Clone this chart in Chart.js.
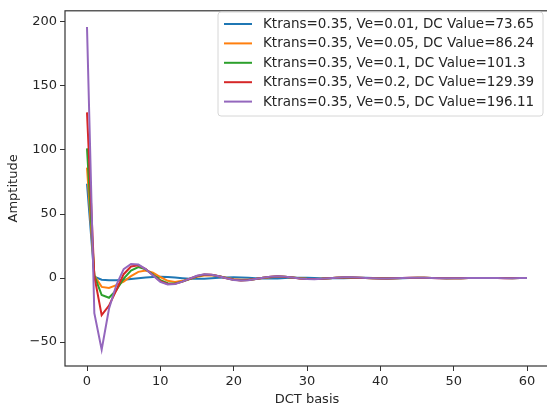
<!DOCTYPE html>
<html>
<head>
<meta charset="utf-8">
<script src="https://cdn.jsdelivr.net/npm/chart.js@4/dist/chart.umd.min.js"></script>
<style>
  html, body { margin: 0; padding: 0; background: #fff; overflow: hidden; }
  #wrap { width: 547px; height: 409px; overflow: hidden; position: relative; }
  canvas { display: block; }
</style>
</head>
<body>
<div id="wrap"><canvas id="c" width="552" height="409"></canvas></div>
<script>
// ---- data ----
const dctBasis = Array.from({length: 61}, (_, i) => i);
const xTicks = [0, 10, 20, 30, 40, 50, 60];
const yTicks = [-50, 0, 50, 100, 150, 200];

const seriesLabels = [
  "Ktrans=0.35, Ve=0.01, DC Value=73.65",
  "Ktrans=0.35, Ve=0.05, DC Value=86.24",
  "Ktrans=0.35, Ve=0.1, DC Value=101.3",
  "Ktrans=0.35, Ve=0.2, DC Value=129.39",
  "Ktrans=0.35, Ve=0.5, DC Value=196.11"
];
const seriesColors = ["#1f77b4", "#ff7f0e", "#2ca02c", "#d62728", "#9467bd"];

const ve001 = [73.65, 1, -1.3, -1.8, -1.8, -1.4, -0.8, -0.1, 0.5, 0.9, 1.0, 0.8, 0.4, -0.1, -0.5, -0.6, -0.5, -0.2, 0.2, 0.5,
  0.6, 0.5, 0.2, -0.1, -0.4, -0.4, -0.3, 0.0, 0.2, 0.3, 0.3, 0.1, -0.1, -0.2, -0.2, -0.1, 0.0, 0.1, 0.2, 0.1,
  0.0, -0.1, -0.1, -0.1, 0.0, 0.1, 0.1, 0.0, 0.0, -0.1, 0.0, 0.0, 0.0, 0.0, 0.0, 0.0, 0.0, 0.0, 0.0, 0.0, 0.0];
const ve005 = [86.24, 2, -6.9, -7.7, -5.6, -2.8, 1.5, 4.8, 5.8, 4.2, 0.8, -2.2, -3.0, -2.2, -0.7, 1.0, 2.0, 2.1, 1.4, 0.2,
  -0.9, -1.4, -1.3, -0.7, 0.1, 0.7, 1.0, 0.9, 0.4, -0.1, -0.5, -0.7, -0.5, -0.2, 0.2, 0.4, 0.4, 0.3, 0.1, -0.1,
  -0.2, -0.3, -0.2, 0.0, 0.1, 0.2, 0.2, 0.1, 0.0, -0.1, -0.1, -0.1, 0.0, 0.0, 0.1, 0.0, 0.0, 0.0, 0.0, 0.0, 0.0];
const ve01 = [101.3, 2, -13.3, -15.4, -9.5, -0.5, 5.9, 8.5, 6.8, 2.8, -1.6, -4.0, -4.2, -2.8, -0.8, 1.3, 2.5, 2.4, 1.4, 0.0,
  -1.3, -1.8, -1.6, -0.8, 0.2, 0.9, 1.2, 1.0, 0.4, -0.2, -0.6, -0.8, -0.6, -0.2, 0.2, 0.5, 0.5, 0.3, 0.1, -0.2,
  -0.3, -0.3, -0.2, 0.0, 0.1, 0.2, 0.2, 0.1, 0.0, -0.1, -0.1, -0.1, 0.0, 0.1, 0.1, 0.0, 0.0, 0.0, -0.1, 0.0, 0.0];
const ve02 = [129.39, 1.5, -29, -21.5, -9.5, 3, 9, 10, 7, 2.2, -2.5, -4.6, -4.4, -2.8, -0.6, 1.6, 2.7, 2.5, 1.4, -0.1,
  -1.4, -1.9, -1.6, -0.8, 0.3, 1.0, 1.3, 1.0, 0.4, -0.3, -0.7, -0.8, -0.6, -0.1, 0.3, 0.5, 0.5, 0.3, 0.1, -0.2,
  -0.3, -0.3, -0.2, 0.0, 0.2, 0.2, 0.2, 0.1, -0.1, -0.1, -0.2, -0.1, 0.0, 0.1, 0.1, 0.1, 0.0, -0.1, -0.1, 0.0, 0.0];
const ve05 = [196.11, -27.5, -56, -24, -5.5, 7, 11, 10.5, 7, 2, -3, -5, -4.6, -2.8, -0.5, 1.8, 2.9, 2.6, 1.4, -0.2,
  -1.5, -2.0, -1.7, -0.8, 0.3, 1.1, 1.4, 1.1, 0.4, -0.3, -0.8, -0.9, -0.6, -0.1, 0.3, 0.6, 0.6, 0.4, 0.1, -0.2,
  -0.4, -0.4, -0.2, 0.0, 0.2, 0.3, 0.3, 0.1, -0.1, -0.2, -0.2, -0.1, 0.0, 0.1, 0.1, 0.1, 0.0, -0.1, -0.1, 0.0, 0.0];

const seriesValues = [ve001, ve005, ve01, ve02, ve05];

const FONT = "'DejaVu Sans', sans-serif";
const TEXT = "#262626";

const datasets = seriesValues.map((vals, k) => ({
  label: seriesLabels[k],
  data: vals.map((v, i) => ({x: dctBasis[i], y: v})),
  borderColor: seriesColors[k],
  backgroundColor: seriesColors[k],
  borderWidth: 2,
  pointRadius: 0,
  tension: 0,
  fill: false,
  order: seriesValues.length - k
}));

const framePlugin = {
  id: 'frame',
  afterDatasetsDraw(chart) {
    const a = chart.chartArea, ctx = chart.ctx;
    ctx.save();
    ctx.strokeStyle = '#333';
    ctx.lineWidth = 1.2;
    ctx.strokeRect(a.left, a.top, a.right - a.left, a.bottom - a.top);
    ctx.restore();
  }
};

const legendPlugin = {
  id: 'innerLegend',
  afterDraw(chart) {
    const ctx = chart.ctx;
    ctx.save();
    ctx.font = "13.5px " + FONT;
    const bx = 218, by = 12, bw = 325, bh = 104;
    const r = 3;
    ctx.beginPath();
    ctx.moveTo(bx + r, by);
    ctx.arcTo(bx + bw, by, bx + bw, by + bh, r);
    ctx.arcTo(bx + bw, by + bh, bx, by + bh, r);
    ctx.arcTo(bx, by + bh, bx, by, r);
    ctx.arcTo(bx, by, bx + bw, by, r);
    ctx.closePath();
    ctx.fillStyle = 'rgba(255,255,255,0.8)';
    ctx.fill();
    ctx.strokeStyle = '#d6d6d6';
    ctx.lineWidth = 1;
    ctx.stroke();
    ctx.textBaseline = 'middle';
    ctx.textAlign = 'left';
    chart.data.datasets.forEach((ds, k) => {
      const yy = 24 + k * 19.4;
      ctx.strokeStyle = ds.borderColor;
      ctx.lineWidth = 2;
      ctx.beginPath();
      ctx.moveTo(224, yy);
      ctx.lineTo(252, yy);
      ctx.stroke();
      ctx.fillStyle = TEXT;
      ctx.fillText(ds.label, 263, yy + 0.5);
    });
    ctx.restore();
  }
};

new Chart(document.getElementById('c'), {
  type: 'line',
  data: { datasets },
  options: {
    responsive: false,
    animation: false,
    layout: { padding: { top: 4, right: 3, left: 0, bottom: 0 } },
    plugins: { legend: { display: false }, tooltip: { enabled: false } },
    scales: {
      x: {
        type: 'linear',
        min: -3, max: 63,
        afterBuildTicks(s) { s.ticks = xTicks.map(v => ({value: v})); },
        afterFit(s) { s.height = 43; },
        grid: { drawOnChartArea: false, drawTicks: true, tickLength: 5, color: '#333', tickWidth: 1 },
        border: { display: false },
        ticks: { color: TEXT, font: { family: FONT, size: 13 }, padding: 3, maxRotation: 0 },
        title: { display: true, text: 'DCT basis', color: TEXT, font: { family: FONT, size: 13 }, padding: { top: 0, bottom: 2 } }
      },
      y: {
        type: 'linear',
        min: -68.7, max: 208.7,
        afterBuildTicks(s) { s.ticks = yTicks.map(v => ({value: v})); },
        afterFit(s) { s.width = 65; },
        grid: { drawOnChartArea: false, drawTicks: true, tickLength: 5, color: '#333', tickWidth: 1 },
        border: { display: false },
        ticks: { color: TEXT, font: { family: FONT, size: 13 }, padding: 3,
          callback: v => (v < 0 ? '\u2212' + Math.abs(v) : String(v)) },
        title: { display: true, text: 'Amptitude', color: TEXT, font: { family: FONT, size: 13 }, padding: { top: 6, bottom: 4 } }
      }
    }
  },
  plugins: [framePlugin, legendPlugin]
});
</script>
</body>
</html>
